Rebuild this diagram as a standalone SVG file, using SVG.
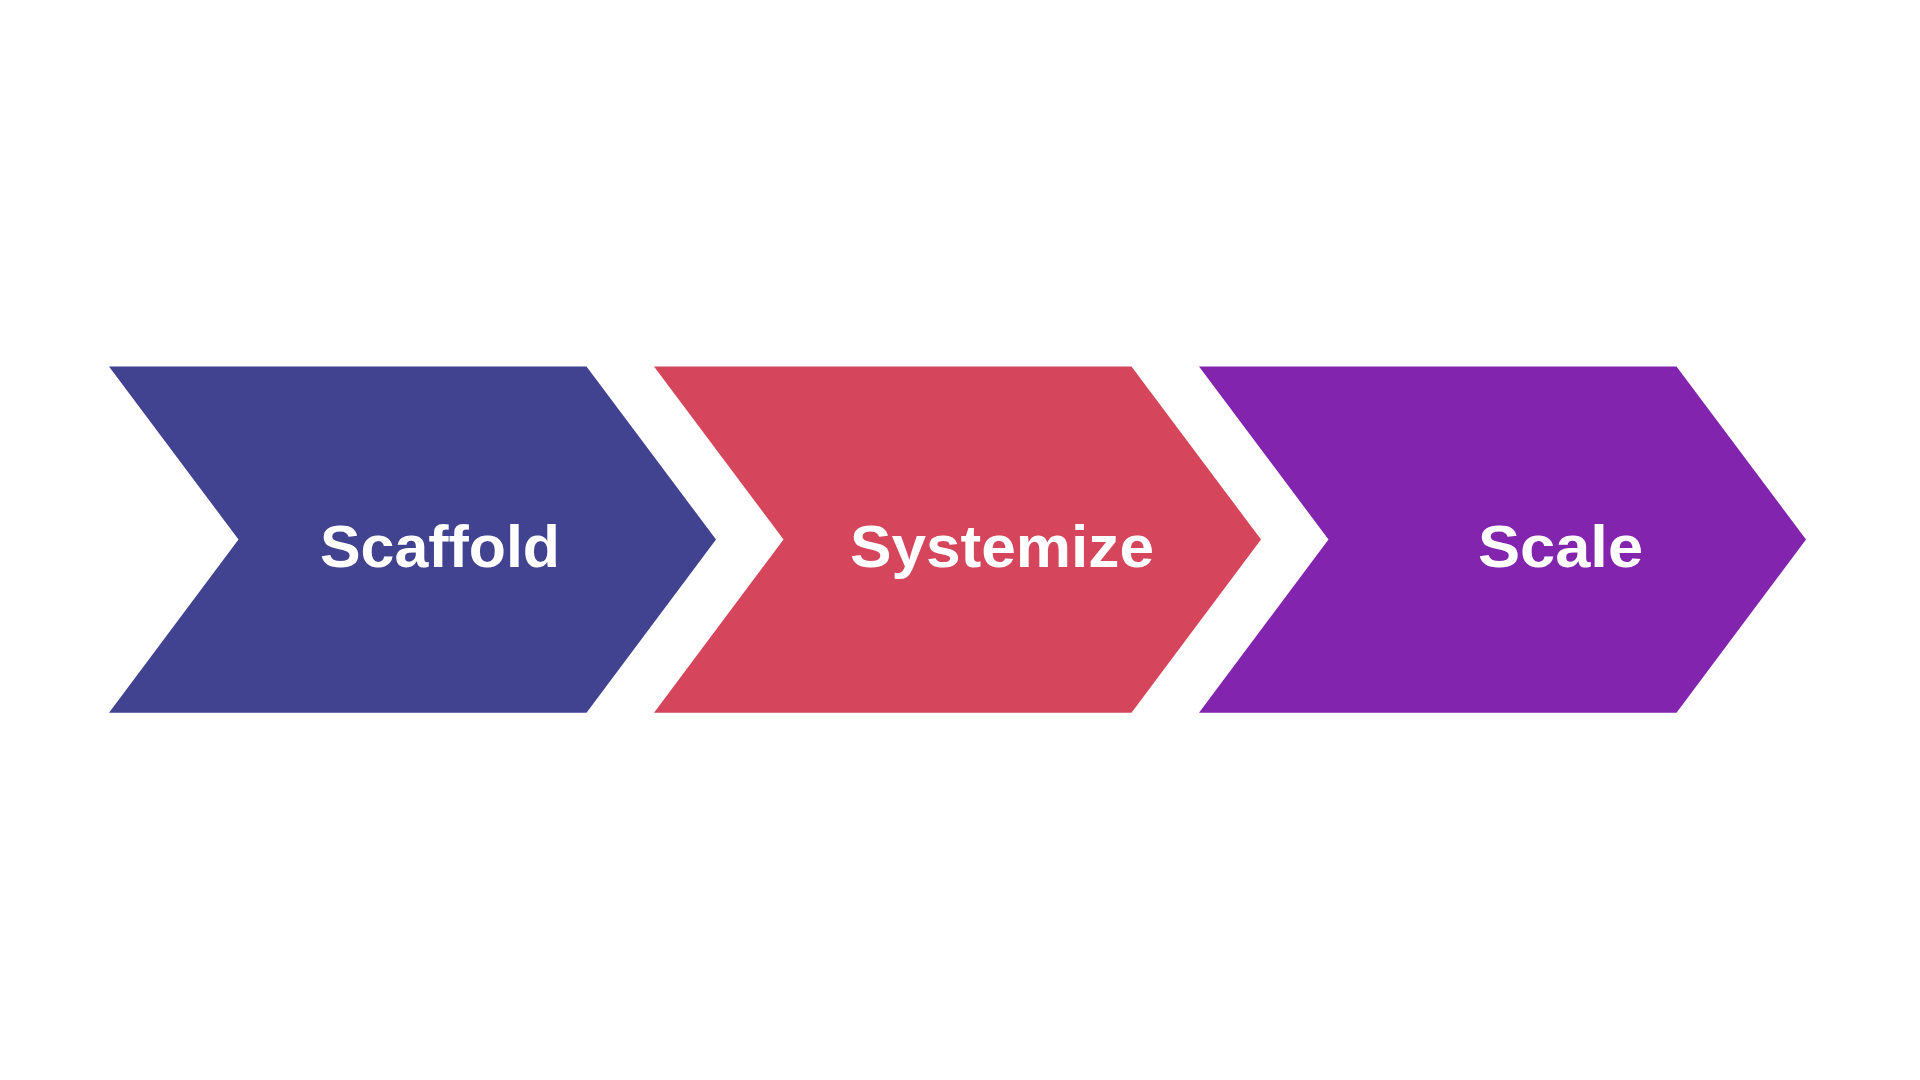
<svg xmlns="http://www.w3.org/2000/svg" width="1920" height="1080" viewBox="0 0 1920 1080">
<style>
.lbl{font-family:"Liberation Sans",Arial,sans-serif;font-weight:bold;font-size:59px;fill:#ffffff;text-anchor:middle}
</style>
<rect x="0" y="0" width="1920" height="1080" fill="#ffffff"/>
<g id="node-scaffold">
<polygon points="109,366.5 586.5,366.5 716,539.5 586.5,712.7 109,712.7 238.5,539.5" fill="#414290"/>
<text class="lbl" x="440" y="567" textLength="240" lengthAdjust="spacingAndGlyphs">Scaffold</text>
</g>
<g id="node-systemize">
<polygon points="654,366.5 1131.5,366.5 1261,539.5 1131.5,712.7 654,712.7 783.5,539.5" fill="#D5465C"/>
<text class="lbl" x="1002" y="567" textLength="304" lengthAdjust="spacingAndGlyphs">Systemize</text>
</g>
<g id="node-scale">
<polygon points="1199,366.5 1676.5,366.5 1806,539.5 1676.5,712.7 1199,712.7 1328.5,539.5" fill="#8224AD"/>
<text class="lbl" x="1560.5" y="567" textLength="165" lengthAdjust="spacingAndGlyphs">Scale</text>
</g>
<g id="connectors"></g>
</svg>
